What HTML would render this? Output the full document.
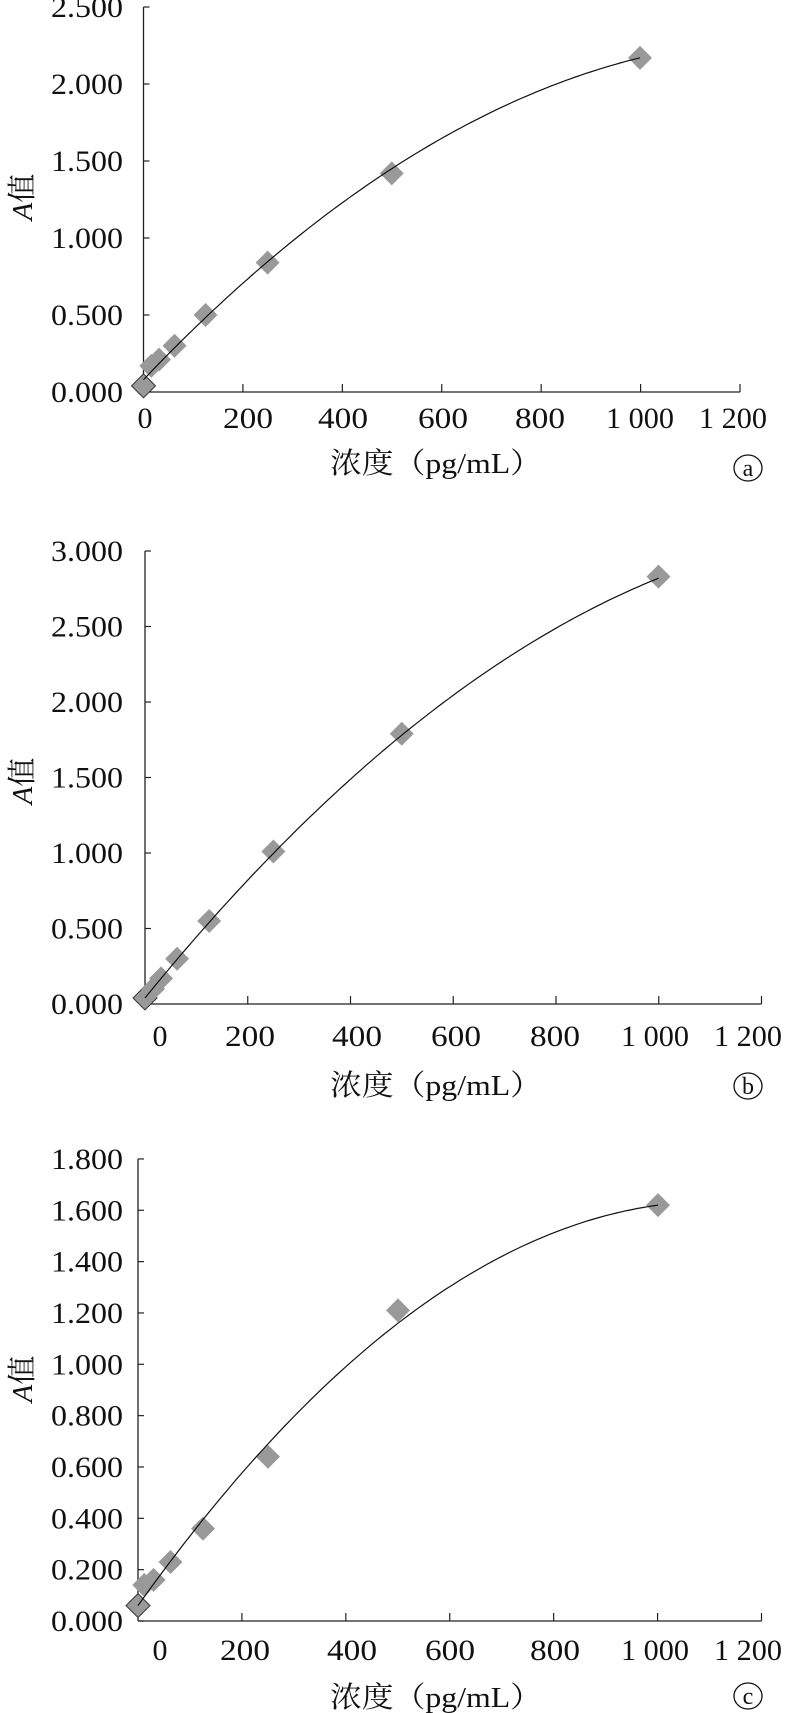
<!DOCTYPE html>
<html><head><meta charset="utf-8"><style>
html,body{margin:0;padding:0;background:#fff;}
svg{display:block;}
text{font-family:"Liberation Serif","Noto Serif CJK SC","Noto Sans CJK SC",serif;fill:#111;}
</style></head><body>
<svg id="s" width="786" height="1713" viewBox="0 0 786 1713" xmlns="http://www.w3.org/2000/svg"></svg>
<script>
var NS="http://www.w3.org/2000/svg",S=document.getElementById('s');
function el(t,a,txt){var e=document.createElementNS(NS,t);for(var k in a)e.setAttribute(k,a[k]);if(txt!=null)e.textContent=txt;S.appendChild(e);return e;}
var charts=[
 {ax:143.5,sx:0.4965,y0:392,sy:154,top:7,tmax:2.5,step:0.5,xend:740,lb:428,tb:473,cy:468,acy:197,
  xl:[145,248,343,443,540,640,733],
  pts:[[0,0.04],[15.6,0.17],[31.25,0.21],[62.5,0.30],[125,0.50],[250,0.84],[500,1.42],[1000,2.17]],
  c:[0.08,0.00339,-1.3e-6],lab:"a"},
 {ax:145,sx:0.5135,y0:1004,sy:151,top:551,tmax:3,step:0.5,xend:761.5,lb:1046,tb:1095,cy:1086,acy:781,
  xl:[160,250,357,456,555,655,748],
  pts:[[0,0.04],[15.6,0.10],[31.25,0.17],[62.5,0.30],[125,0.55],[250,1.01],[500,1.79],[1000,2.83]],
  c:[0.04,0.00418,-1.4e-6],lab:"b"},
 {ax:138,sx:0.52,y0:1621,sy:256.7,top:1159,tmax:1.8,step:0.2,xend:761.5,lb:1660,tb:1707,cy:1696,acy:1379,
  xl:[160,245,352,450,555,655,748],
  pts:[[0,0.06],[12,0.14],[30,0.16],[62.5,0.23],[125,0.36],[250,0.64],[500,1.21],[1000,1.62]],
  c:[0.06,0.00284,-1.28e-6],lab:"c"}
];
var xt=["0","200","400","600","800","1 000","1 200"];
charts.forEach(function(C){
 var X=function(v){return C.ax+v*C.sx;},Y=function(v){return C.y0-v*C.sy;};
 el('line',{x1:C.ax,y1:C.top,x2:C.ax,y2:C.y0,stroke:'#222','stroke-width':1.3});
 el('line',{x1:C.ax,y1:C.y0,x2:C.xend,y2:C.y0,stroke:'#222','stroke-width':1.3});
 var n=Math.round(C.tmax/C.step);
 for(var i=0;i<=n;i++){var v=i*C.step,y=Y(v);
  el('line',{x1:C.ax,y1:y,x2:C.ax+6,y2:y,stroke:'#222','stroke-width':1.2});
  el('text',{x:123,y:y+10,'text-anchor':'end','font-size':30,textLength:72,lengthAdjust:'spacingAndGlyphs'},v.toFixed(3));}
 for(var j=1;j<=6;j++){var x=C.ax+(C.xend-C.ax)*j/6;
  el('line',{x1:x,y1:C.y0,x2:x,y2:C.y0-8,stroke:'#222','stroke-width':1.2});}
 xt.forEach(function(t,k){var a={x:C.xl[k],y:C.lb,'text-anchor':'middle','font-size':30};
  if(t.length>3){a.textLength=t.length==5?68:44;a.lengthAdjust='spacingAndGlyphs';}
  else if(t.length==3){a.textLength=50;a.lengthAdjust='spacingAndGlyphs';}
  el('text',a,t);});
 el('text',{x:436,y:C.tb,'text-anchor':'middle','font-size':29,textLength:212,lengthAdjust:'spacingAndGlyphs'},"浓度（pg/mL）");
 el('ellipse',{cx:748,cy:C.cy,rx:14,ry:13,fill:'none',stroke:'#111','stroke-width':1.3});
 el('text',{x:748,y:C.cy+8,'text-anchor':'middle','font-size':24},C.lab);
 var g=el('text',{x:0,y:0,'font-size':29,transform:'translate(32,'+C.acy+') rotate(-90)','text-anchor':'middle'});
 var t1=document.createElementNS(NS,'tspan');t1.setAttribute('font-style','italic');t1.textContent='A';g.appendChild(t1);
 var t2=document.createElementNS(NS,'tspan');t2.textContent='值';g.appendChild(t2);
 C.pts.forEach(function(p,k){var x=X(p[0]),y=Y(p[1]),r=12;
  el('path',{d:'M'+x+' '+(y-r)+'L'+(x+r)+' '+y+'L'+x+' '+(y+r)+'L'+(x-r)+' '+y+'Z',fill:'#999',stroke:k==0?'#333':'none','stroke-width':1});});
 var d='';
 for(var v=0;v<=1000;v+=10){var yv=C.c[0]+C.c[1]*v+C.c[2]*v*v;d+=(v==0?'M':'L')+X(v).toFixed(1)+' '+Y(yv).toFixed(1);}
 el('path',{d:d,fill:'none',stroke:'#111','stroke-width':1.2});
});
</script>
</body></html>
